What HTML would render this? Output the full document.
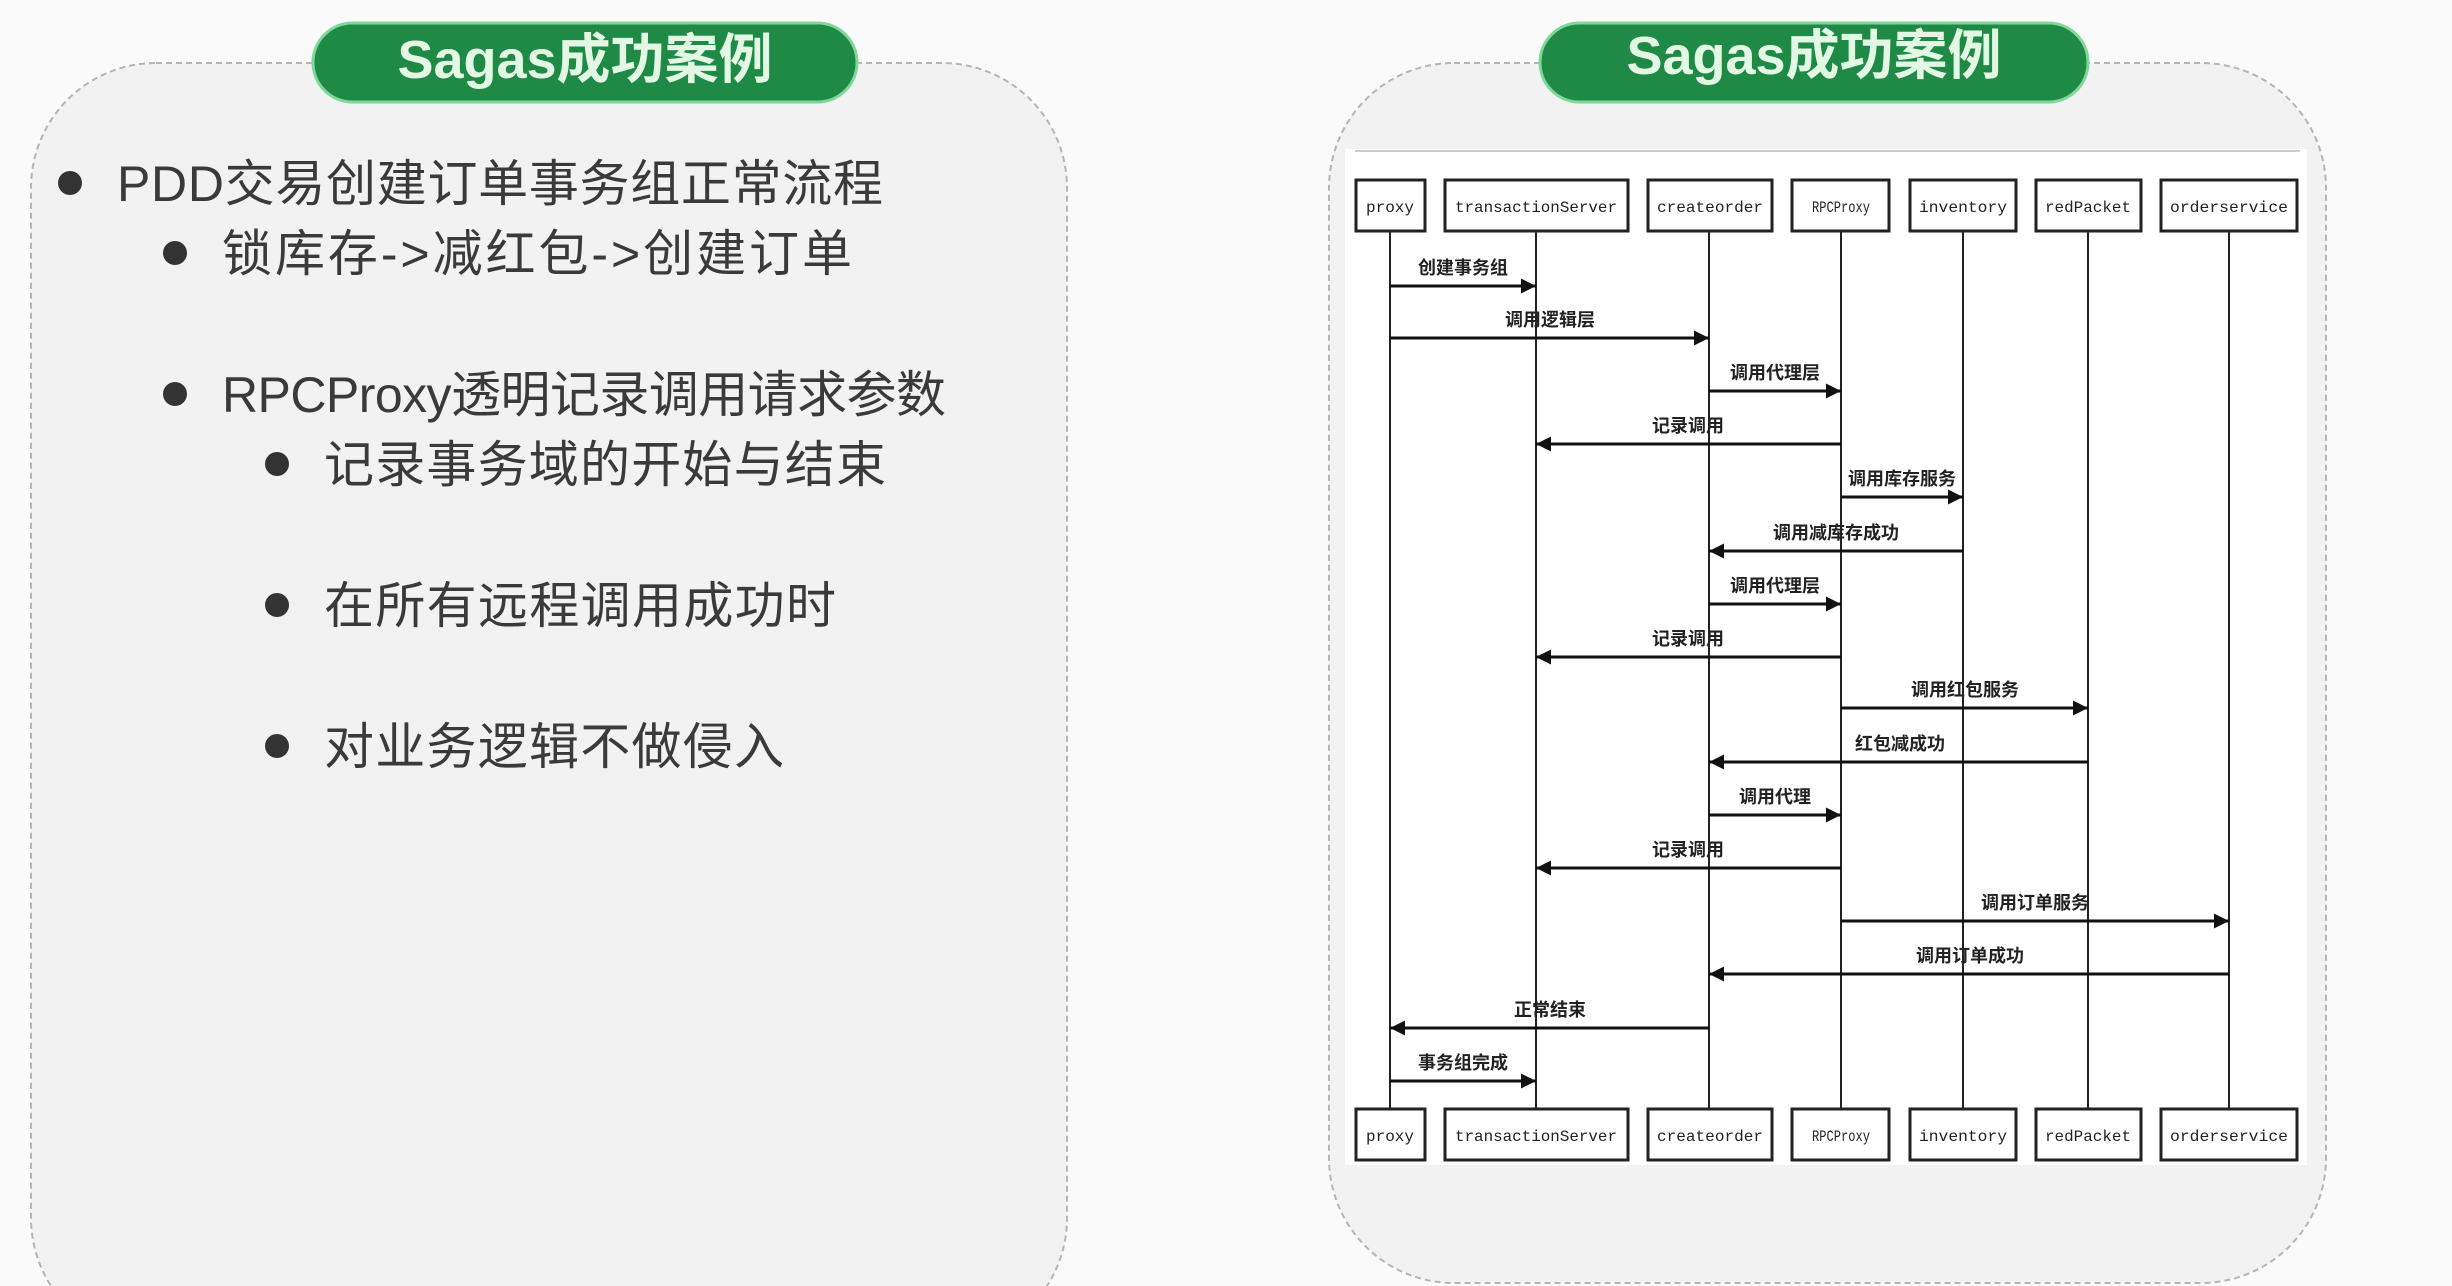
<!DOCTYPE html>
<html><head><meta charset="utf-8"><style>
html,body{margin:0;padding:0;background:#fafafa;}
svg{display:block}
.cn{font-family:"Liberation Sans","Noto Sans CJK SC",sans-serif;}
.mono{font-family:"Liberation Mono","DejaVu Sans Mono",monospace;}
</style></head><body>
<svg width="2452" height="1286" viewBox="0 0 2452 1286" xmlns="http://www.w3.org/2000/svg">
<defs>
<marker id="ah" viewBox="0 0 10 10" refX="10" refY="5" markerWidth="5" markerHeight="5" orient="auto-start-reverse"><path d="M0,0 L10,5 L0,10 z" fill="#111"/></marker>
</defs>
<rect width="2452" height="1286" fill="#fafafa"/>
<rect x="31" y="63" width="1036" height="1280" rx="125" fill="#f2f2f2" stroke="#b5b5b5" stroke-width="2" stroke-dasharray="6 4"/>
<rect x="313" y="23" width="544" height="79" rx="39.5" fill="#1f8a45" stroke="#7fd79a" stroke-width="3"/>
<text x="585" y="78" text-anchor="middle" class="cn" font-size="54" font-weight="bold" fill="#e2f7e4">Sagas成功案例</text>
<g class="cn" font-size="50" fill="#3a3a3a">
<circle cx="70" cy="183" r="12" fill="#333"/><text x="117" y="201" textLength="766">PDD交易创建订单事务组正常流程</text>
<circle cx="175" cy="253" r="12" fill="#333"/><text x="222" y="271" textLength="630">锁库存-&gt;减红包-&gt;创建订单</text>
<circle cx="175" cy="394" r="12" fill="#333"/><text x="222" y="412" textLength="724">RPCProxy透明记录调用请求参数</text>
<circle cx="277" cy="464" r="12" fill="#333"/><text x="324" y="482" textLength="562">记录事务域的开始与结束</text>
<circle cx="277" cy="605" r="12" fill="#333"/><text x="324" y="623" textLength="512">在所有远程调用成功时</text>
<circle cx="277" cy="746" r="12" fill="#333"/><text x="324" y="764" textLength="460">对业务逻辑不做侵入</text>
</g>
<rect x="1329" y="63" width="997" height="1220" rx="125" fill="#f2f2f2" stroke="#b5b5b5" stroke-width="2" stroke-dasharray="6 4"/>
<rect x="1345" y="149" width="962" height="1016" fill="#fff"/>
<line x1="1355" y1="151" x2="2300" y2="151" stroke="#ccc" stroke-width="2"/>
<rect x="1540" y="23" width="548" height="79" rx="39.5" fill="#1f8a45" stroke="#7fd79a" stroke-width="3"/>
<text x="1814" y="74" text-anchor="middle" class="cn" font-size="54" font-weight="bold" fill="#e2f7e4">Sagas成功案例</text>
<g stroke="#222" stroke-width="2">
<line x1="1390" y1="231" x2="1390" y2="1109"/>
<line x1="1536" y1="231" x2="1536" y2="1109"/>
<line x1="1709" y1="231" x2="1709" y2="1109"/>
<line x1="1841" y1="231" x2="1841" y2="1109"/>
<line x1="1963" y1="231" x2="1963" y2="1109"/>
<line x1="2088" y1="231" x2="2088" y2="1109"/>
<line x1="2229" y1="231" x2="2229" y2="1109"/>
</g>
<g fill="#fff" stroke="#222" stroke-width="3">
<rect x="1356" y="180" width="69" height="51"/><rect x="1445" y="180" width="183" height="51"/><rect x="1648" y="180" width="124" height="51"/><rect x="1792" y="180" width="97" height="51"/><rect x="1910" y="180" width="106" height="51"/><rect x="2036" y="180" width="105" height="51"/><rect x="2161" y="180" width="136" height="51"/>
<rect x="1356" y="1109" width="69" height="51"/><rect x="1445" y="1109" width="183" height="51"/><rect x="1648" y="1109" width="124" height="51"/><rect x="1792" y="1109" width="97" height="51"/><rect x="1910" y="1109" width="106" height="51"/><rect x="2036" y="1109" width="105" height="51"/><rect x="2161" y="1109" width="136" height="51"/>
</g>
<g class="mono" font-size="16" fill="#222" text-anchor="middle" lengthAdjust="spacingAndGlyphs">
<text x="1390" y="212" textLength="48" lengthAdjust="spacingAndGlyphs">proxy</text><text x="1536" y="212" textLength="162" lengthAdjust="spacingAndGlyphs">transactionServer</text><text x="1710" y="212" textLength="106" lengthAdjust="spacingAndGlyphs">createorder</text><text x="1841" y="212" textLength="58" lengthAdjust="spacingAndGlyphs">RPCProxy</text><text x="1963" y="212" textLength="88" lengthAdjust="spacingAndGlyphs">inventory</text><text x="2088" y="212" textLength="86" lengthAdjust="spacingAndGlyphs">redPacket</text><text x="2229" y="212" textLength="118" lengthAdjust="spacingAndGlyphs">orderservice</text>
<text x="1390" y="1141" textLength="48" lengthAdjust="spacingAndGlyphs">proxy</text><text x="1536" y="1141" textLength="162" lengthAdjust="spacingAndGlyphs">transactionServer</text><text x="1710" y="1141" textLength="106" lengthAdjust="spacingAndGlyphs">createorder</text><text x="1841" y="1141" textLength="58" lengthAdjust="spacingAndGlyphs">RPCProxy</text><text x="1963" y="1141" textLength="88" lengthAdjust="spacingAndGlyphs">inventory</text><text x="2088" y="1141" textLength="86" lengthAdjust="spacingAndGlyphs">redPacket</text><text x="2229" y="1141" textLength="118" lengthAdjust="spacingAndGlyphs">orderservice</text>
</g>
<g stroke="#111" stroke-width="3" marker-end="url(#ah)">
<line x1="1390" y1="286" x2="1536" y2="286"/>
<line x1="1390" y1="338" x2="1709" y2="338"/>
<line x1="1709" y1="391" x2="1841" y2="391"/>
<line x1="1841" y1="444" x2="1536" y2="444"/>
<line x1="1841" y1="497" x2="1963" y2="497"/>
<line x1="1963" y1="551" x2="1709" y2="551"/>
<line x1="1709" y1="604" x2="1841" y2="604"/>
<line x1="1841" y1="657" x2="1536" y2="657"/>
<line x1="1841" y1="708" x2="2088" y2="708"/>
<line x1="2088" y1="762" x2="1709" y2="762"/>
<line x1="1709" y1="815" x2="1841" y2="815"/>
<line x1="1841" y1="868" x2="1536" y2="868"/>
<line x1="1841" y1="921" x2="2229" y2="921"/>
<line x1="2229" y1="974" x2="1709" y2="974"/>
<line x1="1709" y1="1028" x2="1390" y2="1028"/>
<line x1="1390" y1="1081" x2="1536" y2="1081"/>
</g>
<g class="cn" font-size="18" font-weight="bold" fill="#222" text-anchor="middle">
<text x="1463" y="274">创建事务组</text>
<text x="1550" y="326">调用逻辑层</text>
<text x="1775" y="379">调用代理层</text>
<text x="1688" y="432">记录调用</text>
<text x="1902" y="485">调用库存服务</text>
<text x="1836" y="539">调用减库存成功</text>
<text x="1775" y="592">调用代理层</text>
<text x="1688" y="645">记录调用</text>
<text x="1965" y="696">调用红包服务</text>
<text x="1900" y="750">红包减成功</text>
<text x="1775" y="803">调用代理</text>
<text x="1688" y="856">记录调用</text>
<text x="2035" y="909">调用订单服务</text>
<text x="1970" y="962">调用订单成功</text>
<text x="1550" y="1016">正常结束</text>
<text x="1463" y="1069">事务组完成</text>
</g>
</svg>
</body></html>
